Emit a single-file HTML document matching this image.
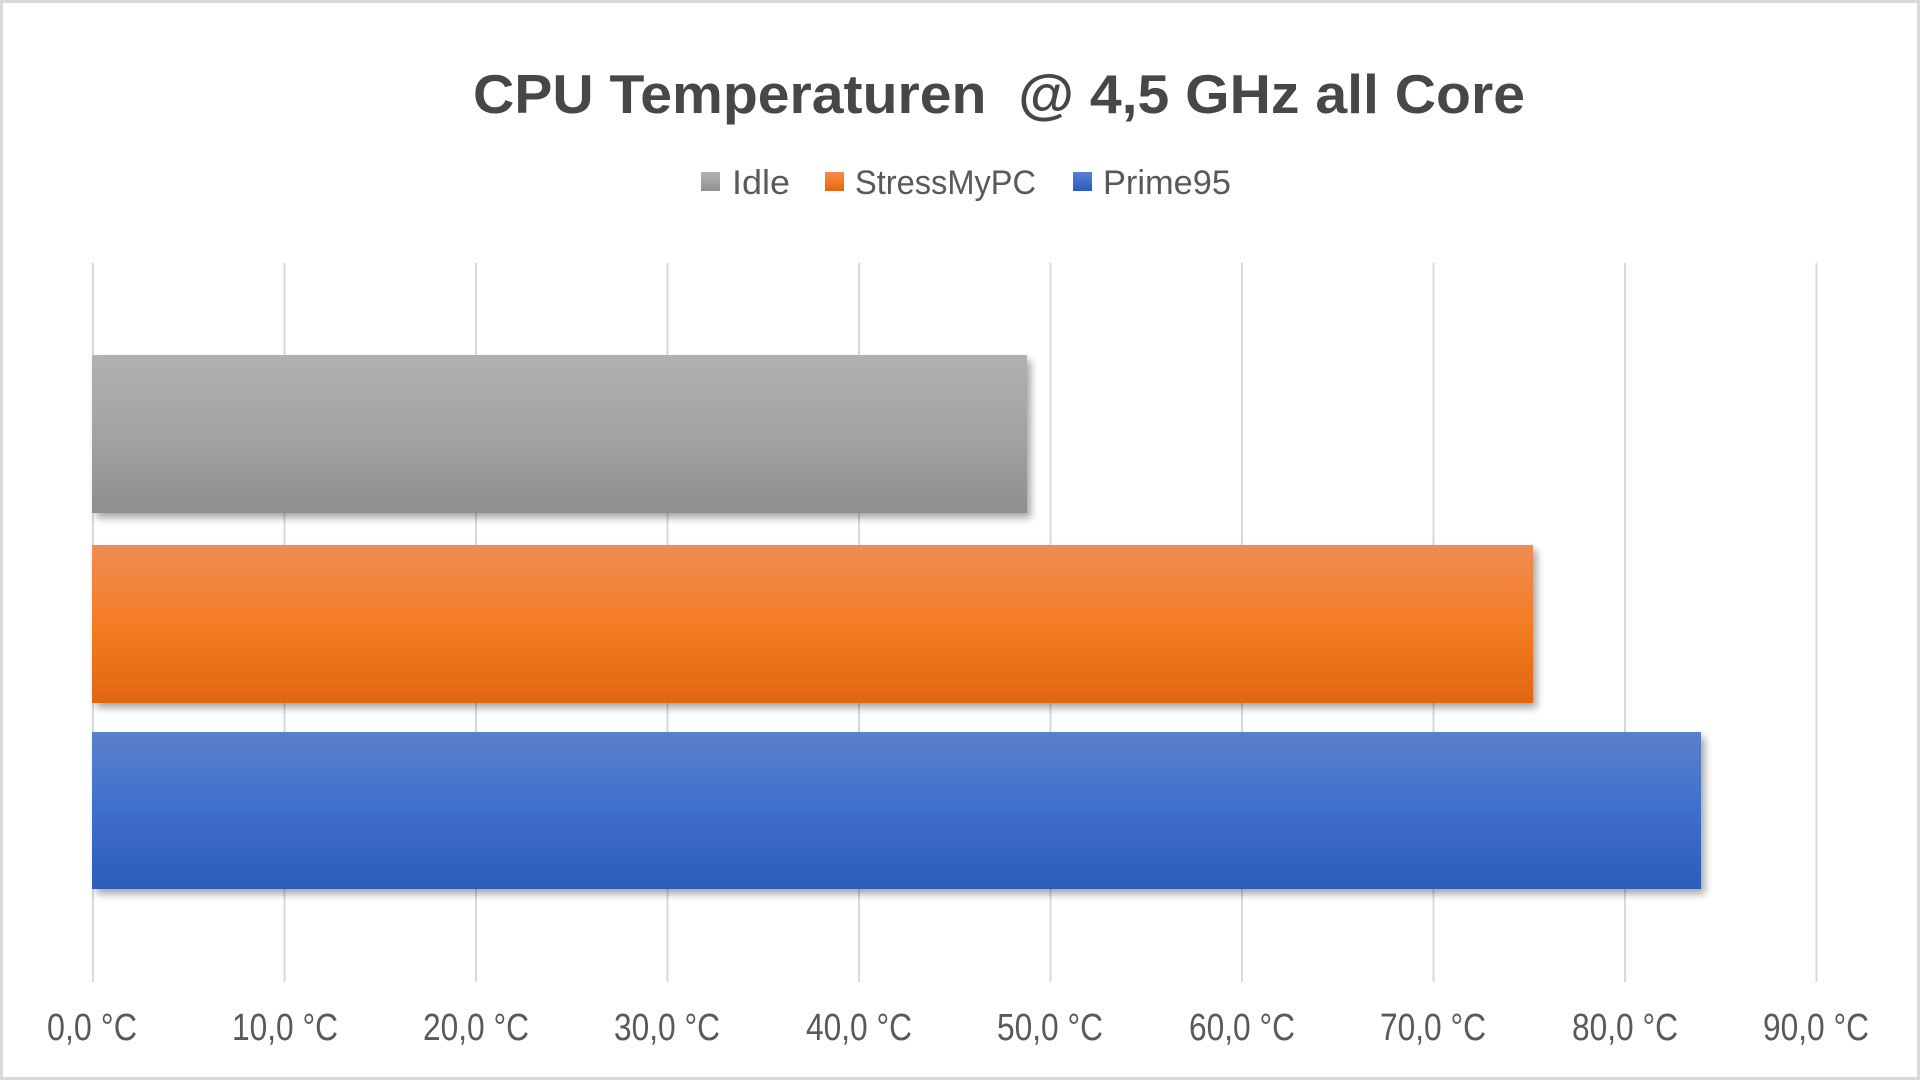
<!DOCTYPE html>
<html><head><meta charset="utf-8"><style>
html,body{margin:0;padding:0;background:#fff;width:1920px;height:1080px;overflow:hidden}
svg{display:block}
</style></head><body>
<svg width="1920" height="1080" viewBox="0 0 1920 1080" xmlns="http://www.w3.org/2000/svg">
<defs>
<linearGradient id="gGray" x1="0" y1="0" x2="0" y2="1">
<stop offset="0" stop-color="#b1b1b1"/><stop offset="0.5" stop-color="#a3a3a3"/><stop offset="1" stop-color="#8e8e8e"/>
</linearGradient>
<linearGradient id="gOr" x1="0" y1="0" x2="0" y2="1">
<stop offset="0" stop-color="#f08c55"/><stop offset="0.5" stop-color="#f47c24"/><stop offset="1" stop-color="#e0660f"/>
</linearGradient>
<linearGradient id="gBl" x1="0" y1="0" x2="0" y2="1">
<stop offset="0" stop-color="#5b80cc"/><stop offset="0.5" stop-color="#3f6fcb"/><stop offset="1" stop-color="#2c5cb9"/>
</linearGradient>
<filter id="sh" x="-5%" y="-20%" width="115%" height="150%">
<feGaussianBlur in="SourceAlpha" stdDeviation="4"/>
<feOffset dx="4" dy="5" result="o"/>
<feComponentTransfer><feFuncA type="linear" slope="0.35"/></feComponentTransfer>
<feMerge><feMergeNode/><feMergeNode in="SourceGraphic"/></feMerge>
</filter>
</defs>
<rect x="1.5" y="1.5" width="1917" height="1077" fill="#fff" stroke="#d9d9d9" stroke-width="3"/>
<text x="473" y="113" font-family="Liberation Sans, sans-serif" font-weight="bold" font-size="55" fill="#474747" textLength="1052" lengthAdjust="spacingAndGlyphs" xml:space="preserve">CPU Temperaturen  @ 4,5 GHz all Core</text>
<g font-family="Liberation Sans, sans-serif" font-size="34" fill="#595959">
<rect x="701" y="172" width="19" height="19" fill="url(#gGray)"/>
<text x="732" y="194" textLength="58" lengthAdjust="spacingAndGlyphs">Idle</text>
<rect x="825" y="172" width="19" height="19" fill="url(#gOr)"/>
<text x="855" y="194" textLength="181" lengthAdjust="spacingAndGlyphs">StressMyPC</text>
<rect x="1073" y="172" width="19" height="19" fill="url(#gBl)"/>
<text x="1103" y="194" textLength="128" lengthAdjust="spacingAndGlyphs">Prime95</text>
</g>
<g stroke="#d9d9d9" stroke-width="2">
<line x1="93" y1="263" x2="93" y2="982"/>
<line x1="284.5" y1="263" x2="284.5" y2="982"/>
<line x1="476" y1="263" x2="476" y2="982"/>
<line x1="667.5" y1="263" x2="667.5" y2="982"/>
<line x1="859" y1="263" x2="859" y2="982"/>
<line x1="1050.5" y1="263" x2="1050.5" y2="982"/>
<line x1="1242" y1="263" x2="1242" y2="982"/>
<line x1="1433.5" y1="263" x2="1433.5" y2="982"/>
<line x1="1625" y1="263" x2="1625" y2="982"/>
<line x1="1816.5" y1="263" x2="1816.5" y2="982"/>
</g>
<rect x="92" y="355" width="935" height="158" fill="url(#gGray)" filter="url(#sh)"/>
<rect x="92" y="545" width="1441" height="158" fill="url(#gOr)" filter="url(#sh)"/>
<rect x="92" y="732" width="1609" height="157" fill="url(#gBl)" filter="url(#sh)"/>
<g font-family="Liberation Sans, sans-serif" font-size="38" fill="#595959" text-anchor="middle" lengthAdjust="spacingAndGlyphs">
<text x="92" y="1040" textLength="90" lengthAdjust="spacingAndGlyphs">0,0 °C</text>
<text x="285" y="1040" textLength="106" lengthAdjust="spacingAndGlyphs">10,0 °C</text>
<text x="476" y="1040" textLength="106" lengthAdjust="spacingAndGlyphs">20,0 °C</text>
<text x="667" y="1040" textLength="106" lengthAdjust="spacingAndGlyphs">30,0 °C</text>
<text x="859" y="1040" textLength="106" lengthAdjust="spacingAndGlyphs">40,0 °C</text>
<text x="1050" y="1040" textLength="106" lengthAdjust="spacingAndGlyphs">50,0 °C</text>
<text x="1242" y="1040" textLength="106" lengthAdjust="spacingAndGlyphs">60,0 °C</text>
<text x="1433" y="1040" textLength="106" lengthAdjust="spacingAndGlyphs">70,0 °C</text>
<text x="1625" y="1040" textLength="106" lengthAdjust="spacingAndGlyphs">80,0 °C</text>
<text x="1816" y="1040" textLength="106" lengthAdjust="spacingAndGlyphs">90,0 °C</text>
</g>
</svg>
</body></html>
